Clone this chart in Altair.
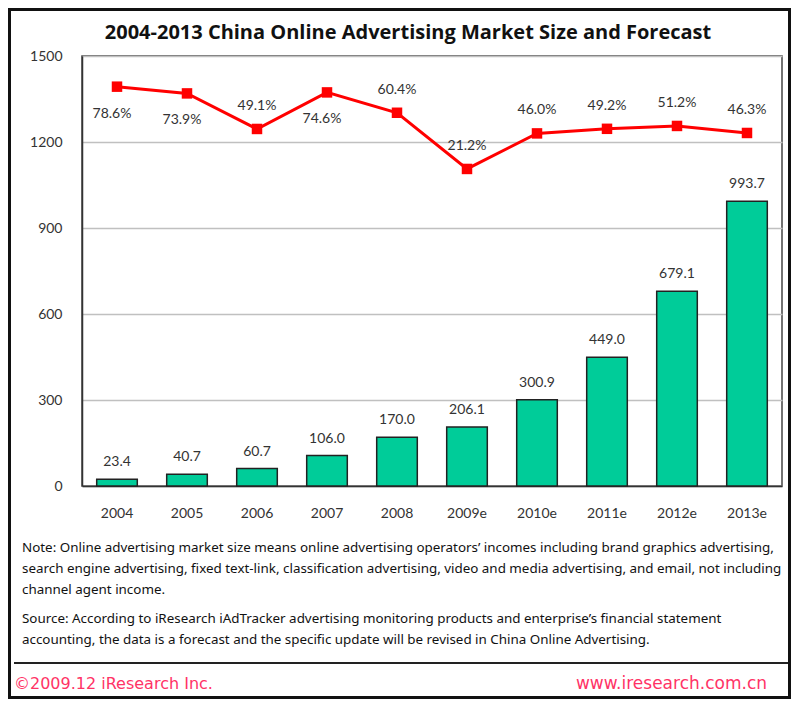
import altair as alt
import pandas as pd

years = ["2004", "2005", "2006", "2007", "2008", "2009e", "2010e", "2011e", "2012e", "2013e"]
market_size = [23.4, 40.7, 60.7, 106.0, 170.0, 206.1, 300.9, 449.0, 679.1, 993.7]
growth_rate = [78.6, 73.9, 49.1, 74.6, 60.4, 21.2, 46.0, 49.2, 51.2, 46.3]
growth_label_below = [True, True, False, True, False, False, False, False, False, False]
y_ticks = [0, 300, 600, 900, 1200, 1500]

title_text = "2004-2013 China Online Advertising Market Size and Forecast"
note_lines = [
    "Note: Online advertising market size means online advertising operators’  incomes including brand graphics advertising,",
    "search engine advertising, fixed text-link, classification advertising, video and media advertising, and email, not including",
    "channel agent income.",
]
source_lines = [
    "Source: According to iResearch iAdTracker advertising monitoring products and enterprise’s financial statement",
    "accounting, the data is a forecast and the specific update will be revised in China Online Advertising.",
]
footer_left = "©2009.12 iResearch Inc."
footer_right = "www.iresearch.com.cn"

df = pd.DataFrame({
    "year": years,
    "size": market_size,
    "rate": growth_rate,
    "rate_label": [f"{r:.1f}%" for r in growth_rate],
    "below": growth_label_below,
})

FONT = "Lato"
NOTE_FONT = "'Liberation Sans Narrow', 'Noto Sans', sans-serif"
W, H = 700, 430

xenc = alt.X("year:N", sort=years, title=None,
             scale=alt.Scale(paddingInner=0.42, paddingOuter=0.21),
             axis=alt.Axis(labelAngle=0, labelFontSize=14, labelColor="#333333", labelFont=FONT,
                           labelPadding=20, ticks=False, domain=True, domainColor="#333333",
                           domainWidth=1.5, grid=False))

base = alt.Chart(df)

bars = base.mark_bar(color="#00CC99", stroke="#222222", strokeWidth=1.5).encode(
    x=xenc,
    y=alt.Y("size:Q", title=None,
            scale=alt.Scale(domain=[0, 1500], nice=False),
            axis=alt.Axis(values=y_ticks, format="d", labelFontSize=14,
                          labelColor="#333333", labelFont=FONT, labelPadding=20, ticks=False,
                          domainColor="#333333", domainWidth=1.5, gridColor="#C0C0C0",
                          gridWidth=1.5)),
)

bar_labels = base.mark_text(baseline="bottom", dy=-10, fontSize=14, color="#333333", font=FONT).encode(
    x=alt.X("year:N", sort=years),
    y=alt.Y("size:Q"),
    text=alt.Text("size:Q", format=".1f"),
)

left = alt.layer(bars, bar_labels)

rate_y = alt.Y("rate:Q", scale=alt.Scale(domain=[-200, 100], nice=False), axis=None)

line = base.mark_line(color="#FF0000", strokeWidth=3).encode(
    x=alt.X("year:N", sort=years), y=rate_y)
pts = base.mark_point(shape="square", filled=True, color="#FF0000", size=110, opacity=1).encode(
    x=alt.X("year:N", sort=years), y=rate_y)
lab_above = base.transform_filter("!datum.below").mark_text(
    baseline="bottom", dy=-16, fontSize=14, color="#333333", font=FONT).encode(
    x=alt.X("year:N", sort=years), y=rate_y, text="rate_label:N")
lab_below = base.transform_filter("datum.below").mark_text(
    baseline="top", dy=20, dx=-5, fontSize=14, color="#333333", font=FONT).encode(
    x=alt.X("year:N", sort=years), y=rate_y, text="rate_label:N")

right = alt.layer(line, pts, lab_above, lab_below)

# annotation texts (positions in plot coordinates; plot origin at page (82,56))
title_mark = alt.Chart(pd.DataFrame({"t": [title_text]})).mark_text(
    fontSize=20, fontWeight="bold", font="'Open Sans', Lato", color="#111111",
    align="center", baseline="middle").encode(
    x=alt.value(326), y=alt.value(-23), text="t:N")

notes_layers = []
ys = [492, 513, 534, 563, 584]
for i, line_text in enumerate(note_lines + source_lines):
    notes_layers.append(
        alt.Chart(pd.DataFrame({"t": [line_text]})).mark_text(
            fontSize=13.4, font=NOTE_FONT, color="#111111", align="left", baseline="middle").encode(
            x=alt.value(-60), y=alt.value(ys[i]), text="t:N"))

sep = alt.Chart(pd.DataFrame({"a": [0]})).mark_rule(color="#222222", strokeWidth=2).encode(
    x=alt.value(-68), x2=alt.value(706), y=alt.value(607))

footer_l = alt.Chart(pd.DataFrame({"t": [footer_left]})).mark_text(
    fontSize=16, font="'DejaVu Sans', Verdana", color="#FF3366", align="left", baseline="middle").encode(
    x=alt.value(-68), y=alt.value(628), text="t:N")
footer_r = alt.Chart(pd.DataFrame({"t": [footer_right]})).mark_text(
    fontSize=17, font="'DejaVu Sans', Verdana", color="#FF3366", align="right", baseline="middle").encode(
    x=alt.value(685), y=alt.value(628), text="t:N")

frame = alt.Chart(pd.DataFrame({"a": [0]})).mark_rect(
    fill=None, stroke="#111111", strokeWidth=3).encode(
    x=alt.value(-72.5), x2=alt.value(707.5), y=alt.value(-46.5), y2=alt.value(641.5))

chart = alt.layer(
    left, right, title_mark, *notes_layers, sep, footer_l, footer_r, frame
).resolve_scale(y="independent").properties(
    width=W, height=H,
    padding={"left": 74, "top": 48, "right": 10, "bottom": 216},
    autosize=alt.AutoSizeParams(type="none"),
    background="white",
).configure_view(stroke="#444444", strokeWidth=1.5)

chart.save("out.html", embed_options={"renderer": "svg", "actions": False})
